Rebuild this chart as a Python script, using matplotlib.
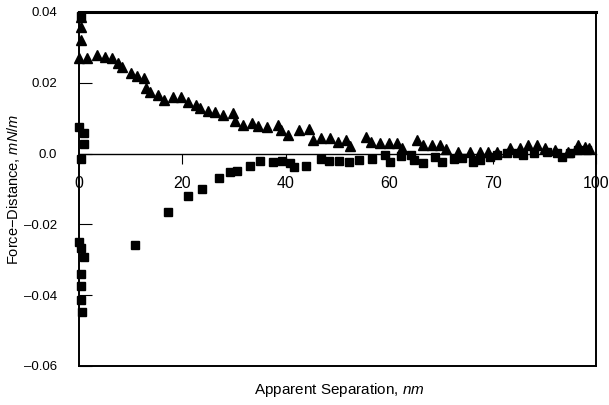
"""Force-distance curve: approach (triangles) and retraction (squares)."""

import matplotlib
matplotlib.use("Agg")
import matplotlib.pyplot as plt

plt.rcParams["font.family"] = ["Liberation Sans", "DejaVu Sans"]
plt.rcParams["mathtext.fontset"] = "custom"
plt.rcParams["mathtext.it"] = "Liberation Sans:italic"
plt.rcParams["mathtext.rm"] = "Liberation Sans"

# triangles (approach)
tri_x = [0.3, 0.4, 0.4, 0.0, 1.5, 3.4, 5.0, 6.3, 7.6, 8.4, 10.0, 11.2, 12.6,
         13.0, 13.7, 15.2, 16.5, 18.1, 19.7, 21.1, 22.6, 23.5, 24.9, 26.4,
         27.8, 29.7, 30.2, 31.7, 33.4, 34.7, 36.3, 38.5, 39.0, 40.5, 42.6,
         44.5, 45.2, 46.9, 48.5, 50.0, 51.6, 52.5, 55.6, 56.4, 58.3, 60.0,
         61.5, 62.5, 65.3, 66.6, 68.2, 69.8, 70.9, 73.4, 75.6, 77.6, 79.2,
         80.8, 83.4, 85.3, 86.9, 88.5, 90.1, 92.1, 94.6, 96.6, 97.9, 98.6]
tri_y = [0.0386, 0.0358, 0.0320, 0.0270, 0.0270, 0.0279, 0.0274, 0.0269,
         0.0255, 0.0245, 0.0227, 0.0220, 0.0214, 0.0186, 0.0175, 0.0166,
         0.0151, 0.0161, 0.0159, 0.0147, 0.0137, 0.0128, 0.0121, 0.0117,
         0.0109, 0.0114, 0.0093, 0.0081, 0.0087, 0.0078, 0.0074, 0.0081,
         0.0067, 0.0053, 0.0067, 0.0070, 0.0038, 0.0043, 0.0043, 0.0034,
         0.0038, 0.0021, 0.0048, 0.0034, 0.0030, 0.0030, 0.0030, 0.0016,
         0.0039, 0.0024, 0.0024, 0.0024, 0.0012, 0.0005, 0.0005, 0.0005,
         0.0005, 0.0005, 0.0015, 0.0015, 0.0024, 0.0024, 0.0015, 0.0010,
         0.0005, 0.0024, 0.0020, 0.0015]

# squares (retraction)
sq_x = [0.3, 0.0, 1.0, 1.0, 0.4, 0.0, 0.3, 1.0, 0.4, 0.4, 0.4, 0.5, 10.8,
        17.3, 21.0, 23.7, 27.1, 29.3, 30.5, 33.0, 35.0, 37.6, 39.2, 40.8,
        41.6, 43.9, 46.9, 48.3, 50.2, 52.3, 54.2, 56.7, 59.2, 60.2, 62.3,
        64.3, 64.8, 66.5, 68.8, 70.2, 72.6, 74.0, 76.3, 77.6, 79.5, 80.8,
        82.7, 84.7, 85.9, 88.0, 90.5, 92.4, 93.4, 95.0, 96.6, 98.2]
sq_y = [0.0390, 0.0076, 0.0059, 0.0027, -0.0016, -0.0249, -0.0268, -0.0291,
        -0.0340, -0.0374, -0.0414, -0.0447, -0.0258, -0.0164, -0.0120,
        -0.0100, -0.0070, -0.0051, -0.0048, -0.0034, -0.0022, -0.0023,
        -0.0022, -0.0027, -0.0037, -0.0035, -0.0015, -0.0020, -0.0020,
        -0.0023, -0.0018, -0.0014, -0.0003, -0.0023, -0.0006, -0.0004,
        -0.0018, -0.0027, -0.0009, -0.0025, -0.0015, -0.0013, -0.0023,
        -0.0018, -0.0009, -0.0004, 0.0001, 0.0003, -0.0004, 0.0001, 0.0005,
        0.0001, -0.0009, 0.0001, 0.0010, 0.0010]

x_ticks = [0, 20, 40, 60, 80, 100]
x_tick_labels = ["0", "20", "40", "60", "70", "100"]
y_ticks = [0.04, 0.02, 0.0, -0.02, -0.04, -0.06]
y_tick_labels = ["0.04", "0.02", "0.0", "\u20130.02", "\u20130.04", "\u20130.06"]

fig = plt.figure(figsize=(6.09, 4.05), dpi=100)
ax = fig.add_axes([0.1297, 0.0963, 0.849, 0.8741])

ax.plot(tri_x, tri_y, linestyle="none", marker="^", markersize=7,
        color="black", clip_on=False)
ax.plot(sq_x, sq_y, linestyle="none", marker="s", markersize=5.8,
        color="black", clip_on=False)

ax.set_xlim(0, 100)
ax.set_ylim(-0.06, 0.04)

# x axis sits on the zero line, frame is drawn separately
ax.spines["bottom"].set_position(("data", 0))
ax.spines["bottom"].set_linewidth(1.0)
ax.spines["top"].set_linewidth(2.2)
ax.spines["left"].set_linewidth(1.4)
ax.spines["right"].set_linewidth(1.4)
ax.axhline(-0.06, color="black", linewidth=1.4, clip_on=False)

ax.set_xticks(x_ticks, x_tick_labels)
ax.set_yticks(y_ticks, y_tick_labels)
ax.tick_params(axis="x", direction="out", length=7, width=0.8,
               labelsize=11.5, pad=9)
ax.tick_params(axis="y", direction="in", length=9, width=0.8,
               labelsize=9.5, pad=16)

ax.set_xlabel(r"Apparent Separation, $\it{nm}$", fontsize=11)
ax.set_ylabel(r"Force$-$Distance, $\it{mN/m}$", fontsize=10.5)
ax.xaxis.set_label_coords(0.503, -0.042)
ax.yaxis.set_label_coords(-0.11, 0.5)

fig.savefig("out.png", dpi=100, facecolor="white")
